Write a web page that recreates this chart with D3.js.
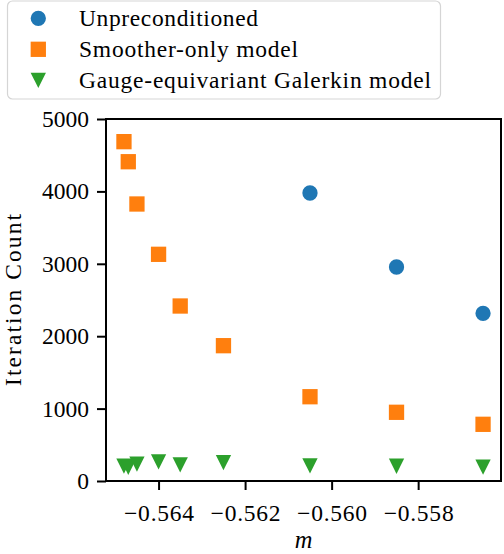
<!DOCTYPE html>
<html>
<head>
<meta charset="utf-8">
<script src="https://cdn.jsdelivr.net/npm/d3@7"></script>
<style>
  html, body { margin: 0; padding: 0; background: #fff; }
  svg { display: block; }
  text { font-family: "Liberation Serif", "DejaVu Serif", serif; fill: #000; }
</style>
</head>
<body>
<svg id="chart" width="504" height="554"></svg>
<script>
// ---- data ----
const seriesNames = ["Unpreconditioned", "Smoother-only model", "Gauge-equivariant Galerkin model"];
const mUnprec = [-0.5605, -0.5585, -0.5565];
const itersUnprec = [3978, 2956, 2316];
const mSmoother = [-0.5648, -0.5647, -0.5645, -0.5640, -0.5635, -0.5625, -0.5605, -0.5585, -0.5565];
const itersSmoother = [4687, 4410, 3826, 3131, 2417, 1869, 1164, 949, 783];
const mGalerkin = [-0.5648, -0.5647, -0.5645, -0.5640, -0.5635, -0.5625, -0.5605, -0.5585, -0.5565];
const itersGalerkin = [205, 190, 232, 265, 224, 255, 210, 204, 191];
const xTicks = [-0.564, -0.562, -0.560, -0.558];
const yTicks = [0, 1000, 2000, 3000, 4000, 5000];
const colors = ["#1f77b4", "#ff7f0e", "#2ca02c"];
const xLabel = "m";
const yLabel = "Iteration Count";

// ---- layout ----
const svg = d3.select("#chart");
const L = 106, R = 501, T = 119, B = 481;
const allM = mUnprec.concat(mSmoother, mGalerkin);
const [mn, mx] = d3.extent(allM);
const pad = (mx - mn) * 0.05;
const x = d3.scaleLinear().domain([mn - pad, mx + pad]).range([L, R]);
const y = d3.scaleLinear().domain([0, 5000]).range([B, T]);
const MS = 15.3;
const fs = 23.5;

const fmt = v => (v < 0 ? "\u2212" : "") + Math.abs(v).toFixed(3);

// axes
const xAxis = d3.axisBottom(x).tickValues(xTicks).tickFormat(fmt).tickSize(9).tickPadding(8);
const yAxis = d3.axisLeft(y).tickValues(yTicks).tickFormat(d3.format("d")).tickSize(9).tickPadding(7);

const gx = svg.append("g").attr("transform", `translate(0,${B})`).call(xAxis);
const gy = svg.append("g").attr("transform", `translate(${L},0)`).call(yAxis);
[gx, gy].forEach(g => {
  g.select(".domain").remove();
  g.selectAll(".tick line").attr("stroke", "#000").attr("stroke-width", 2);
  g.selectAll(".tick text").style("font-size", fs + "px").attr("fill", "#000");
});
gx.selectAll(".tick text").attr("dy", null).attr("y", 40)
  .attr("textLength", 70).attr("lengthAdjust", "spacing");
gy.selectAll(".tick text").attr("dy", "0.32em").attr("x", -17);

// frame
svg.append("rect").attr("x", L).attr("y", T).attr("width", R - L).attr("height", B - T)
  .attr("fill", "none").attr("stroke", "#000").attr("stroke-width", 2);

// markers
const sym = {
  circle: d3.symbol().type(d3.symbolCircle).size(Math.PI * (MS / 2) ** 2)(),
  square: `M${-MS/2},${-MS/2}H${MS/2}V${MS/2}H${-MS/2}Z`,
  tri: `M0,${MS/2}L${-MS/2},${-MS/2}L${MS/2},${-MS/2}Z`
};
const series = [
  { m: mUnprec, v: itersUnprec, shape: sym.circle, c: colors[0] },
  { m: mSmoother, v: itersSmoother, shape: sym.square, c: colors[1] },
  { m: mGalerkin, v: itersGalerkin, shape: sym.tri, c: colors[2] }
];
series.forEach(s => {
  svg.append("g").selectAll("path").data(s.m.map((m, i) => [m, s.v[i]])).join("path")
    .attr("d", s.shape).attr("fill", s.c)
    .attr("transform", d => `translate(${x(d[0])},${y(d[1])})`);
});

// axis labels
svg.append("text").attr("x", (L + R) / 2).attr("y", 548).attr("text-anchor", "middle")
  .style("font-size", (fs + 1) + "px").style("font-style", "italic").text(xLabel);
svg.append("text").attr("transform", `translate(21,${(T + B) / 2}) rotate(-90)`)
  .attr("text-anchor", "middle").style("font-size", fs + "px")
  .attr("textLength", 172).attr("lengthAdjust", "spacing").text(yLabel);

// legend
svg.append("rect").attr("x", 7.5).attr("y", 1).attr("width", 433).attr("height", 98)
  .attr("rx", 5).attr("fill", "#fff").attr("fill-opacity", 0.8).attr("stroke", "#d5d5d5").attr("stroke-width", 1.2);
const rowY = [18.3, 49.3, 80.3];
const legendWidths = [179, 219, 352];
series.forEach((s, i) => {
  svg.append("path").attr("d", s.shape).attr("fill", s.c)
    .attr("transform", `translate(38.3,${rowY[i]})`);
  svg.append("text").attr("x", 79).attr("y", rowY[i] + 7.5)
    .style("font-size", fs + "px")
    .attr("textLength", legendWidths[i]).attr("lengthAdjust", "spacing")
    .text(seriesNames[i]);
});
</script>
</body>
</html>
